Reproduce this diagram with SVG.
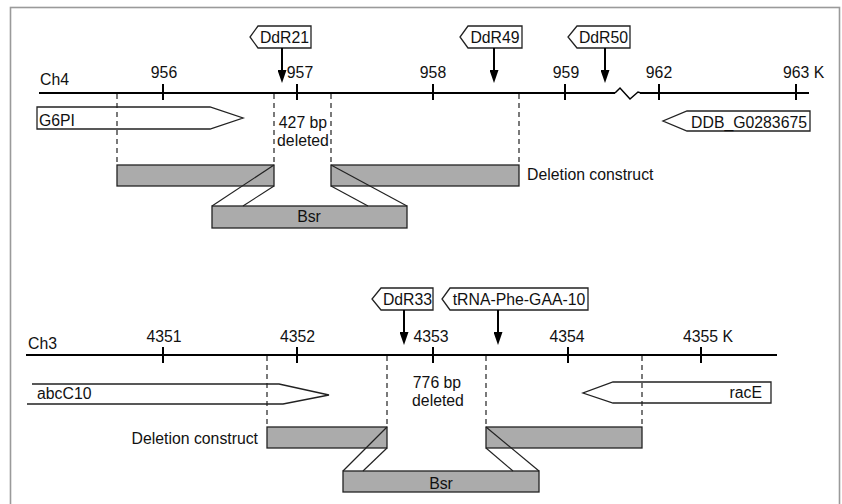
<svg xmlns="http://www.w3.org/2000/svg" width="842" height="504" viewBox="0 0 842 504">
<style>
text{font-family:"Liberation Sans",Arial,sans-serif;font-size:15.8px;fill:#111}
.mid{text-anchor:middle}
.end{text-anchor:end}
.axis{stroke:#000;stroke-width:2;fill:none}
.tick{stroke:#000;stroke-width:2}
.box{fill:#fff;stroke:#222;stroke-width:1.3}
.bar{fill:#ababab;stroke:#222;stroke-width:1.3}
.dash{stroke:#222;stroke-width:1.2;stroke-dasharray:5 4;fill:none}
.diag{stroke:#222;stroke-width:1.2;fill:none}
.arr{stroke:#000;stroke-width:2;fill:none;marker-end:url(#ah)}
</style>
<defs>
<marker id="ah" markerUnits="userSpaceOnUse" markerWidth="13" markerHeight="9" refX="10" refY="4.5" orient="auto">
<path d="M0,0 L13,4.5 L0,9 z" fill="#000"/>
</marker>
</defs>
<rect x="0" y="0" width="842" height="504" fill="#fff"/>
<rect x="10.5" y="7.5" width="829" height="520" fill="#fff" stroke="#9a9a9a" stroke-width="1.6"/>

<!-- Ch4 section -->
<g id="ch4-axis">
<text x="40" y="85">Ch4</text>
<polyline class="axis" points="39,93 615,93"/>
<polyline class="axis" style="stroke-width:1.5" points="615,93 620,88 630,99 638,92 641,93"/>
<polyline class="axis" points="640,93 809,93"/>
<line class="tick" x1="163" y1="84" x2="163" y2="100"/>
<line class="tick" x1="297" y1="84" x2="297" y2="100"/>
<line class="tick" x1="433" y1="84" x2="433" y2="100"/>
<line class="tick" x1="565" y1="84" x2="565" y2="100"/>
<line class="tick" x1="659" y1="84" x2="659" y2="100"/>
<line class="tick" x1="796" y1="84" x2="796" y2="100"/>
<text class="mid" x="164" y="78">956</text>
<text class="mid" x="300" y="78">957</text>
<text class="mid" x="433" y="78">958</text>
<text class="mid" x="566" y="78">959</text>
<text class="mid" x="659" y="78">962</text>
<text x="783" y="78">963 K</text>
</g>
<g id="DdR21">
<path class="box" d="M258,26 H311 V48 H258 L250,37 Z"/>
<text class="mid" x="284.5" y="43">DdR21</text>
</g>
<g id="DdR49">
<path class="box" d="M468,26 H522 V48 H468 L460,37 Z"/>
<text class="mid" x="495" y="43">DdR49</text>
</g>
<g id="DdR50">
<path class="box" d="M577,26 H630 V48 H577 L568,37 Z"/>
<text class="mid" x="603.5" y="43">DdR50</text>
</g>
<g id="G6PI">
<path class="box" d="M37,107 H210 L243,118 L210,129 H37 Z"/>
<text x="39" y="126">G6PI</text>
</g>
<g id="DDB_G0283675">
<path class="box" d="M687,111 H810 V131 H687 L663,121 Z"/>
<text class="end" x="807" y="128">DDB_G0283675</text>
</g>
<g id="del4-label">
<text class="mid" x="303" y="128">427 bp</text>
<text class="mid" x="303" y="146">deleted</text>
</g>
<g id="construct4-left"><rect class="bar" x="117" y="165" width="157" height="21"/></g>
<g id="construct4-right"><rect class="bar" x="331" y="165" width="188" height="21"/></g>
<g id="construct4-label"><text x="527" y="180">Deletion construct</text></g>
<g id="bsr4">
<rect class="bar" x="212" y="206" width="195" height="22"/>
<text class="mid" x="309" y="222">Bsr</text>
</g>

<!-- Ch3 section -->
<g id="ch3-axis">
<text x="28" y="349">Ch3</text>
<line class="axis" x1="26" y1="355" x2="777" y2="355"/>
<line class="tick" x1="163" y1="347" x2="163" y2="363"/>
<line class="tick" x1="297" y1="347" x2="297" y2="363"/>
<line class="tick" x1="433" y1="347" x2="433" y2="363"/>
<line class="tick" x1="568" y1="347" x2="568" y2="363"/>
<line class="tick" x1="701" y1="347" x2="701" y2="363"/>
<text class="mid" x="164" y="342">4351</text>
<text class="mid" x="297.5" y="342">4352</text>
<text class="mid" x="431" y="342">4353</text>
<text class="mid" x="567" y="342">4354</text>
<text x="683" y="342">4355 K</text>
</g>
<g id="DdR33">
<path class="box" d="M381,288 H433 V310 H381 L372,299 Z"/>
<text class="mid" x="407.5" y="305">DdR33</text>
</g>
<g id="tRNA-Phe-GAA-10">
<path class="box" d="M450,288 H588 V310 H450 L442,299 Z"/>
<text class="mid" x="519" y="305">tRNA-Phe-GAA-10</text>
</g>
<g id="abcC10">
<polyline class="box" style="fill:#fff" points="32,384 279,384 329,395 283,404 27,404"/>
<text x="37" y="399">abcC10</text>
</g>
<g id="racE">
<path class="box" d="M613,382 H771 V403 H613 L583,393 Z"/>
<text class="end" x="762" y="398">racE</text>
</g>
<g id="del3-label">
<text class="mid" x="437" y="388">776 bp</text>
<text class="mid" x="438" y="406">deleted</text>
</g>
<g id="construct3-label"><text class="end" x="258" y="444">Deletion construct</text></g>
<g id="construct3-left"><rect class="bar" x="267" y="427" width="120" height="21"/></g>
<g id="construct3-right"><rect class="bar" x="486" y="427" width="156" height="21"/></g>
<g id="bsr3">
<rect class="bar" x="343" y="471" width="196" height="21"/>
<text class="mid" x="441" y="489">Bsr</text>
</g>

<g id="connectors">
<line class="arr" x1="282" y1="48" x2="282" y2="80"/>
<line class="arr" x1="494" y1="48" x2="494" y2="80"/>
<line class="arr" x1="605" y1="48" x2="605" y2="80"/>
<line class="arr" x1="404" y1="310" x2="404" y2="342"/>
<line class="arr" x1="498" y1="310" x2="498" y2="342"/>
<line class="dash" x1="117" y1="94" x2="117" y2="165"/>
<line class="dash" x1="274" y1="94" x2="274" y2="165"/>
<line class="dash" x1="331" y1="94" x2="331" y2="165"/>
<line class="dash" x1="519" y1="94" x2="519" y2="165"/>
<line class="dash" x1="267" y1="356" x2="267" y2="427"/>
<line class="dash" x1="387" y1="356" x2="387" y2="427"/>
<line class="dash" x1="486" y1="356" x2="486" y2="427"/>
<line class="dash" x1="642" y1="356" x2="642" y2="427"/>
<line class="diag" x1="274" y1="165" x2="212" y2="206"/>
<line class="diag" x1="274" y1="186" x2="243" y2="206"/>
<line class="diag" x1="331" y1="165" x2="407" y2="206"/>
<line class="diag" x1="331" y1="186" x2="368" y2="206"/>
<line class="diag" x1="387" y1="427" x2="343" y2="471"/>
<line class="diag" x1="387" y1="448" x2="363" y2="471"/>
<line class="diag" x1="486" y1="427" x2="539" y2="471"/>
<line class="diag" x1="486" y1="448" x2="513" y2="471"/>
</g>
</svg>
